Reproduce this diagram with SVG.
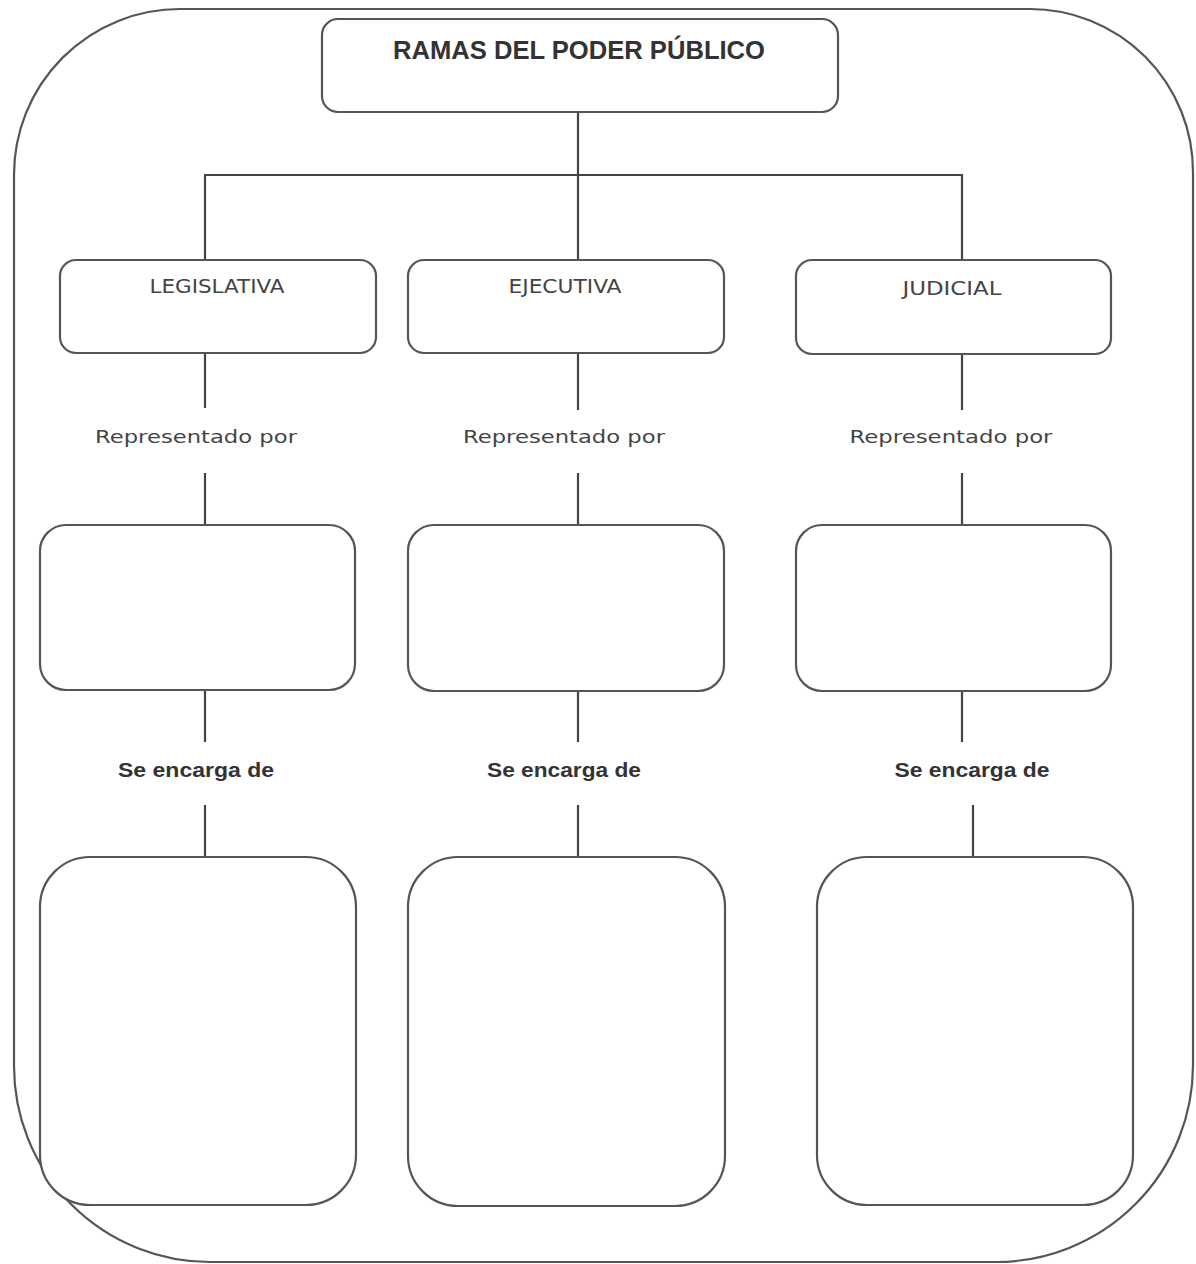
<svg xmlns="http://www.w3.org/2000/svg" width="1196" height="1264" viewBox="0 0 1196 1264">
<style>
.box{fill:#fff;stroke:#555;stroke-width:2.2}
.frame{fill:none;stroke:#555;stroke-width:2.2}
.conn line{stroke:#444;stroke-width:2.2}
.h{font-family:"Liberation Sans",Arial,sans-serif;font-weight:bold;fill:#333;text-anchor:middle}
.b{font-family:"DejaVu Sans",Verdana,sans-serif;fill:#444;text-anchor:middle}
.lab{font-family:"DejaVu Sans",Verdana,sans-serif;fill:#444;text-anchor:middle;font-size:18px}
.lab2{font-family:"Liberation Sans",Arial,sans-serif;font-weight:bold;fill:#333;text-anchor:middle;font-size:21px}
</style>
<rect width="1196" height="1264" fill="#fff"/>
<path class="frame" d="M180 9 H1030 A163 163 0 0 1 1193 172 V1065 A197 197 0 0 1 996 1262 H210 A196 196 0 0 1 14 1066 V175 A166 166 0 0 1 180 9 Z"/>
<g class="conn">
<line x1="578" y1="112" x2="578" y2="260"/>
<line x1="204" y1="175" x2="963" y2="175"/>
<line x1="205" y1="175" x2="205" y2="260"/>
<line x1="962" y1="175" x2="962" y2="260"/>
<line x1="205" y1="353" x2="205" y2="408"/>
<line x1="205" y1="473" x2="205" y2="525"/>
<line x1="578" y1="353" x2="578" y2="410"/>
<line x1="578" y1="473" x2="578" y2="525"/>
<line x1="962" y1="354" x2="962" y2="410"/>
<line x1="962" y1="473" x2="962" y2="525"/>
<line x1="205" y1="690" x2="205" y2="742"/>
<line x1="205" y1="805" x2="205" y2="858"/>
<line x1="578" y1="691" x2="578" y2="742"/>
<line x1="578" y1="805" x2="578" y2="858"/>
<line x1="962" y1="691" x2="962" y2="742"/>
<line x1="973" y1="805" x2="973" y2="858"/>
<text class="lab" x="196" y="443" textLength="202" lengthAdjust="spacingAndGlyphs">Representado por</text>
<text class="lab" x="564" y="443" textLength="202" lengthAdjust="spacingAndGlyphs">Representado por</text>
<text class="lab" x="951" y="443" textLength="203" lengthAdjust="spacingAndGlyphs">Representado por</text>
<text class="lab2" x="196" y="777" textLength="156" lengthAdjust="spacingAndGlyphs">Se encarga de</text>
<text class="lab2" x="564" y="777" textLength="154" lengthAdjust="spacingAndGlyphs">Se encarga de</text>
<text class="lab2" x="972" y="777" textLength="155" lengthAdjust="spacingAndGlyphs">Se encarga de</text>
</g>
<g id="root">
<rect class="box" x="322" y="19" width="516" height="93" rx="16"/>
<text class="h" x="579" y="59" font-size="25" textLength="372" lengthAdjust="spacingAndGlyphs">RAMAS DEL PODER PÚBLICO</text>
</g>
<g id="legislativa">
<rect class="box" x="60" y="260" width="316" height="93" rx="16"/>
<text class="b" x="217" y="293" font-size="20" textLength="135" lengthAdjust="spacingAndGlyphs">LEGISLATIVA</text>
</g>
<g id="ejecutiva">
<rect class="box" x="408" y="260" width="316" height="93" rx="16"/>
<text class="b" x="565" y="293" font-size="20" textLength="113" lengthAdjust="spacingAndGlyphs">EJECUTIVA</text>
</g>
<g id="judicial">
<rect class="box" x="796" y="260" width="315" height="94" rx="16"/>
<text class="b" x="952" y="295" font-size="20" textLength="99" lengthAdjust="spacingAndGlyphs">JUDICIAL</text>
</g>
<g id="leg-rep"><rect class="box" x="40" y="525" width="315" height="165" rx="26"/></g>
<g id="eje-rep"><rect class="box" x="408" y="525" width="316" height="166" rx="26"/></g>
<g id="jud-rep"><rect class="box" x="796" y="525" width="315" height="166" rx="26"/></g>
<g id="leg-func"><rect class="box" x="40" y="857" width="316" height="348" rx="50"/></g>
<g id="eje-func"><rect class="box" x="408" y="857" width="317" height="349" rx="50"/></g>
<g id="jud-func"><rect class="box" x="817" y="857" width="316" height="348" rx="50"/></g>
</svg>
